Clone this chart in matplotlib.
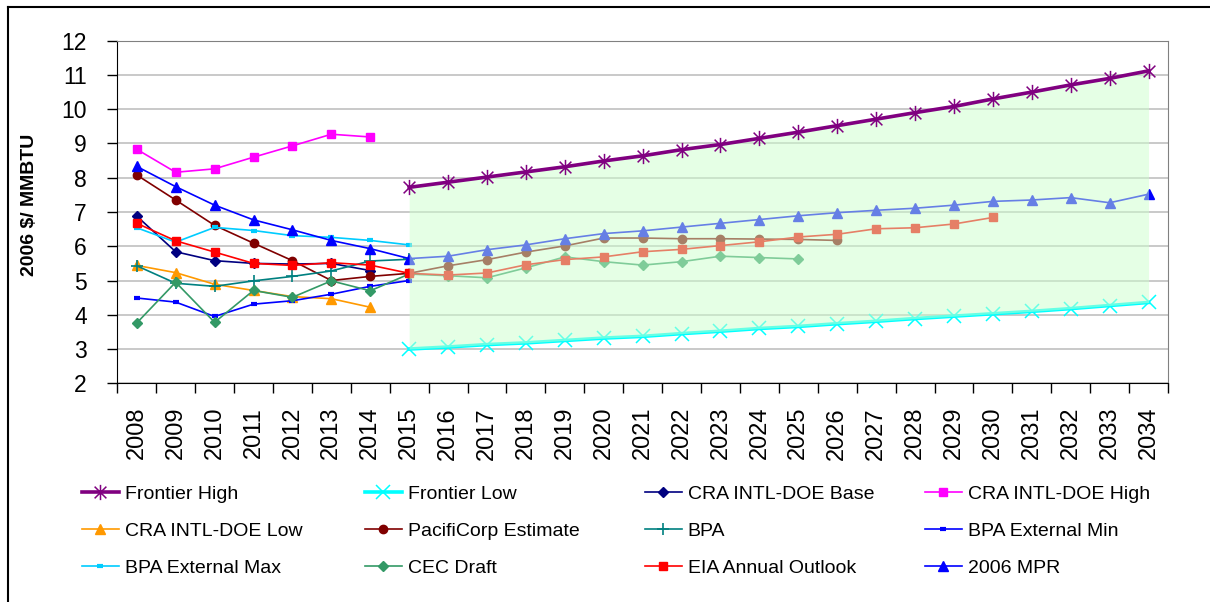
import matplotlib
matplotlib.use("Agg")
import matplotlib.pyplot as plt
from matplotlib.lines import Line2D
from matplotlib.path import Path
import numpy as np

plt.rcParams['font.family'] = ['Liberation Sans', 'DejaVu Sans']

years = list(range(2008, 2035))

# Frontier (2015-2034)
frontier_start = 2015
frontier_high = [7.72, 7.87, 8.02, 8.17, 8.32, 8.49, 8.64, 8.82, 8.97, 9.15,
                 9.33, 9.52, 9.71, 9.90, 10.08, 10.30, 10.50, 10.71, 10.90, 11.12]
frontier_low = [3.00, 3.06, 3.13, 3.18, 3.25, 3.32, 3.37, 3.45, 3.52, 3.60,
                3.66, 3.74, 3.81, 3.89, 3.96, 4.03, 4.10, 4.18, 4.27, 4.36]

# Series starting 2008
cra_base = [6.88, 5.84, 5.58, 5.50, 5.48, 5.50, 5.29]
cra_high = [8.83, 8.16, 8.26, 8.60, 8.93, 9.27, 9.19]
cra_low = [5.44, 5.23, 4.89, 4.71, 4.53, 4.47, 4.22]
pacificorp = [8.08, 7.35, 6.61, 6.09, 5.58, 5.00, 5.12, 5.21, 5.43, 5.61,
              5.83, 6.01, 6.24, 6.24, 6.22, 6.22, 6.21, 6.20, 6.17]
bpa = [5.43, 4.92, 4.83, 4.99, 5.12, 5.28, 5.57, 5.62]
bpa_ext_min = [4.49, 4.37, 3.95, 4.31, 4.41, 4.60, 4.83, 5.00]
bpa_ext_max = [6.54, 6.12, 6.55, 6.46, 6.31, 6.26, 6.17, 6.04]
cec_draft = [3.76, 4.95, 3.78, 4.71, 4.51, 4.99, 4.70, 5.19, 5.14, 5.08,
             5.37, 5.69, 5.55, 5.45, 5.55, 5.71, 5.67, 5.63]
eia = [6.67, 6.16, 5.83, 5.50, 5.44, 5.52, 5.45, 5.21, 5.16, 5.22,
       5.46, 5.61, 5.69, 5.84, 5.91, 6.02, 6.13, 6.27, 6.35, 6.51,
       6.54, 6.65, 6.84]
mpr_2006 = [8.33, 7.74, 7.20, 6.77, 6.48, 6.17, 5.93, 5.64, 5.71, 5.90,
            6.04, 6.22, 6.37, 6.45, 6.56, 6.67, 6.78, 6.89, 6.98, 7.05,
            7.11, 7.20, 7.31, 7.35, 7.42, 7.27, 7.52]

yticks = list(range(2, 13))
ylabel = "2006 $/ MMBTU"

W, H = 1210, 602
fig = plt.figure(figsize=(W / 100, H / 100), dpi=100)
ax = fig.add_axes([117.3 / W, 1 - 383.3 / H, (1168 - 117.3) / W, (383.3 - 40.7) / H])

star = Path([(-1, -1), (1, 1), (-1, 1), (1, -1), (0, -1.3), (0, 1.3)],
            [Path.MOVETO, Path.LINETO, Path.MOVETO, Path.LINETO, Path.MOVETO, Path.LINETO])

def idx(start, n):
    s = years.index(start)
    return np.arange(s, s + n)

styles = [
    ("Frontier High", frontier_high, frontier_start, dict(color='#800080', lw=2.6, marker=star, ms=11, mew=1.1, zorder=5)),
    ("Frontier Low", frontier_low, frontier_start, dict(color='#00FFFF', lw=2.6, marker='x', ms=10, mew=1.1, zorder=2)),
    ("CRA INTL-DOE Base", cra_base, 2008, dict(color='#000080', lw=1.2, marker='D', ms=5, zorder=2)),
    ("CRA INTL-DOE High", cra_high, 2008, dict(color='#FF00FF', lw=1.2, marker='s', ms=6, zorder=2)),
    ("CRA INTL-DOE Low", cra_low, 2008, dict(color='#FF9900', lw=1.2, marker='^', ms=7.5, zorder=2)),
    ("PacifiCorp Estimate", pacificorp, 2008, dict(color='#800000', lw=1.2, marker='o', ms=6, zorder=2)),
    ("BPA", bpa, 2008, dict(color='#008080', lw=1.2, marker='+', ms=8, mew=1.2, zorder=2)),
    ("BPA External Min", bpa_ext_min, 2008, dict(color='#0000FF', lw=1.2, marker='_', ms=5, mew=3, zorder=2)),
    ("BPA External Max", bpa_ext_max, 2008, dict(color='#00CCFF', lw=1.2, marker='_', ms=5, mew=3, zorder=2)),
    ("CEC Draft", cec_draft, 2008, dict(color='#339966', lw=1.2, marker='D', ms=5, zorder=2)),
    ("EIA Annual Outlook", eia, 2008, dict(color='#FF0000', lw=1.2, marker='s', ms=6, zorder=2)),
    ("2006 MPR", mpr_2006, 2008, dict(color='#0000FF', lw=1.2, marker='^', ms=7.5, zorder=2)),
]

handles = []
labels = []
for name, vals, start, st in styles:
    x = idx(start, len(vals))
    ln, = ax.plot(x, vals, label=name, clip_on=False, **st)
    handles.append(ln)
    labels.append(name)

# forecast band
fx = idx(frontier_start, len(frontier_high))
ax.fill_between(fx, frontier_low, frontier_high, color='#CCFFCC', alpha=0.5, lw=0, zorder=3)

ax.set_xlim(-0.5, len(years) - 0.5)
ax.set_ylim(2, 12)
ax.set_yticks(yticks)
ax.set_yticklabels([str(v) for v in yticks], fontsize=16.5)
ax.set_xticks(np.arange(len(years)))
ax.set_xticklabels([str(y) for y in years], rotation=90, fontsize=17)
ax.set_xticks(np.arange(len(years) + 1) - 0.5, minor=True)
ax.tick_params(axis='x', which='major', length=0, pad=17)
ax.tick_params(axis='x', which='minor', length=7, width=1, direction='out')
ax.tick_params(axis='y', which='major', length=7, width=1, direction='out', pad=15)
ax.yaxis.grid(True, color='#C0C0C0', lw=1.2)
ax.set_axisbelow(True)
for s in ['top', 'right']:
    ax.spines[s].set_color('#808080')
for s in ['left', 'bottom']:
    ax.spines[s].set_color('black')
ax.set_ylabel(ylabel, fontsize=14, fontweight='bold')
ax.yaxis.set_label_coords(-0.075, 0.52)

# legend in 4 columns, row-major order
cols_x = [82, 365, 645, 925]
for c in range(4):
    hs = [handles[c], handles[c + 4], handles[c + 8]]
    ls = [labels[c], labels[c + 4], labels[c + 8]]
    fig.legend(hs, ls, loc='upper left', bbox_to_anchor=(cols_x[c] / W, 1 - 485 / H),
               frameon=False, fontsize=14, handlelength=1.9, handletextpad=0.3,
               labelspacing=1.0, borderaxespad=0, borderpad=0)

# outer frame lines (top and left)
fig.add_artist(Line2D([8 / W, 8 / W], [0, 1 - 7 / H], transform=fig.transFigure, color='black', lw=1.5))
fig.add_artist(Line2D([8 / W, 1], [1 - 7 / H, 1 - 7 / H], transform=fig.transFigure, color='black', lw=1.5))

fig.savefig("out.png", dpi=100)
